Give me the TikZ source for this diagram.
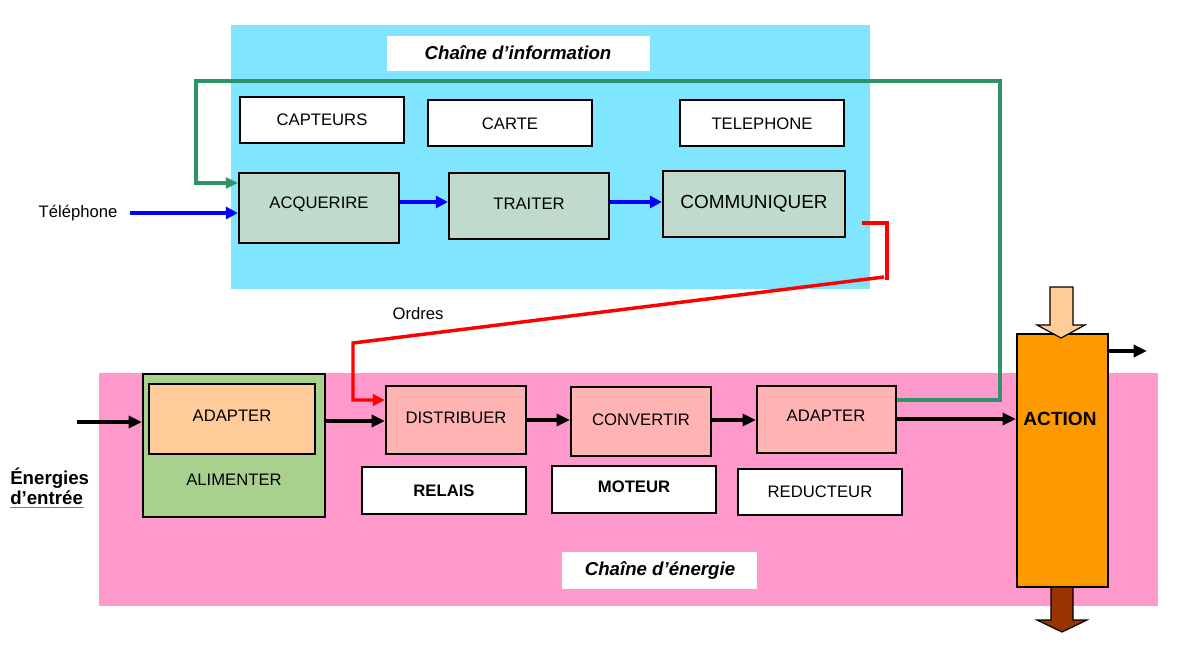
\documentclass[tikz,border=0pt]{standalone}
\usepackage{fontspec}
\setmainfont{Liberation Sans}
\usetikzlibrary{arrows.meta,fit}
\definecolor{cyanbg}{RGB}{128,229,255}
\definecolor{pinkbg}{RGB}{255,153,204}
\definecolor{greybox}{RGB}{192,218,205}
\definecolor{salmon}{RGB}{255,179,179}
\definecolor{peach}{RGB}{255,204,153}
\definecolor{alimgreen}{RGB}{169,209,142}
\definecolor{actorange}{RGB}{255,153,0}
\definecolor{brownarr}{RGB}{153,51,0}
\definecolor{linegreen}{RGB}{46,148,103}
\definecolor{ulblue}{RGB}{90,125,215}
\begin{document}
\begin{tikzpicture}[x=0.75pt,y=-0.75pt,
  box/.style={draw=black, line width=1.7pt, inner sep=0pt},
  wbox/.style={box, fill=white},
  hdr/.style={fill=white, inner sep=0pt},
  lbl/.style={inner sep=0pt, font=\fontsize{12.5}{15}\selectfont},
  blbl/.style={inner sep=0pt, font=\bfseries\fontsize{12.5}{15}\selectfont},
  hlbl/.style={inner sep=0pt, font=\bfseries\itshape\fontsize{14}{16}\selectfont},
  barr/.style={draw=blue, line width=2.6pt, -{Triangle[length=9pt,width=9pt]}},
  karr/.style={draw=black, line width=2.8pt, -{Triangle[length=10pt,width=9pt]}},
  garr/.style={draw=linegreen, line width=2.4pt, -{Triangle[length=9pt,width=8pt]}},
  rarr/.style={draw=red, line width=2.6pt, -{Triangle[length=9pt,width=8.5pt]}},
  blockarr/.style={draw=black, line width=0.9pt}
]
\useasboundingbox (0,0) rectangle (1177,651);

% backgrounds
\fill[cyanbg] (231,25) rectangle (870,289);
\fill[pinkbg] (99,373) rectangle (1158,606);

% headers
\node[hdr, fit={(387,36) (650,71)}] (hinfo) {};
\node[hlbl] (hinfot) at (518,53) {Chaîne d’information};
\node[hdr, fit={(562,552) (757,589)}] (hener) {};
\node[hlbl] (henert) at (660,570) {Chaîne d’énergie};

% information chain
\node[wbox, fit={(240,97) (404,143)}] (capt) {};
\node[lbl] (captt) at (322,120) {CAPTEURS};
\node[wbox, fit={(428,100) (592,146)}] (carte) {};
\node[lbl] (cartet) at (510,124) {CARTE};
\node[wbox, fit={(680,100) (844,146)}] (telb) {};
\node[lbl] (telbt) at (762,124) {TELEPHONE};
\node[box, fill=greybox, fit={(239,173) (399,243)}] (acq) {};
\node[lbl] (acqt) at (319,204) {ACQUERIRE};
\node[box, fill=greybox, fit={(449,173) (609,239)}] (trait) {};
\node[lbl] (traitt) at (529,204) {TRAITER};
\node[box, fill=greybox, fit={(663,171) (845,237)}] (comm) {};
\node[lbl, font=\fontsize{14.2}{16}\selectfont] (commt) at (754,204) {COMMUNIQUER};

\node[lbl] (tel) at (78,213) {Téléphone};
\coordinate (telstart) at (130,213);
\draw[barr] (telstart) -- (acq.west |- telstart);
\draw[barr] (acq.east |- 0,202) -- (trait.west |- 0,202);
\draw[barr] (trait.east |- 0,202) -- (comm.west |- 0,202);

\node[lbl] (ordres) at (418,314) {Ordres};

% energy chain
\node[box, fill=alimgreen, fit={(143,374) (325,517)}] (alim) {};
\node[lbl] (alimt) at (234,480) {ALIMENTER};
\node[box, fill=peach, fit={(149,384) (315,454)}] (adapt1) {};
\node[lbl] (adapt1t) at (232,416) {ADAPTER};
\node[box, fill=salmon, fit={(386,386) (526,454)}] (dist) {};
\node[lbl] (distt) at (456,418) {DISTRIBUER};
\node[box, fill=salmon, fit={(571,387) (711,456)}] (conv) {};
\node[lbl] (convt) at (641,420) {CONVERTIR};
\node[box, fill=salmon, fit={(757,386) (896,453)}] (adapt2) {};
\node[lbl] (adapt2t) at (826,416) {ADAPTER};

\node[wbox, fit={(362,467) (526,514)}] (relais) {};
\node[blbl] (relaist) at (444,491) {RELAIS};
\node[wbox, fit={(552,466) (716,513)}] (moteur) {};
\node[blbl] (moteurt) at (634,487) {MOTEUR};
\node[wbox, fit={(738,469) (902,515)}] (reduc) {};
\node[lbl] (reduct) at (820,492) {REDUCTEUR};

\node[box, fill=actorange, fit={(1017,334) (1108,587)}] (action) {};
\node[inner sep=0pt, font=\bfseries\fontsize{14.3}{16}\selectfont] (actiont) at (1060,419) {ACTION};

\node[anchor=base west, inner sep=0pt, font=\bfseries\fontsize{14}{16}\selectfont] (energ1) at (10,484) {Énergies};
\node[anchor=base west, inner sep=0pt, font=\bfseries\fontsize{14}{16}\selectfont] (energ2) at (10,504) {d’entrée};
\draw[ulblue, line width=0.9pt] (energ2.south west) ++(0,3) -- ++(74,0);

% black arrows
\coordinate (ein) at (77,422);
\draw[karr] (ein) -- (alim.west |- ein);
\draw[karr] (alim.east |- 0,421) -- (dist.west |- 0,421);
\draw[karr] (dist.east |- 0,420) -- (conv.west |- 0,420);
\draw[karr] (conv.east |- 0,420) -- (adapt2.west |- 0,420);
\draw[karr] (adapt2.east |- 0,419) -- (action.west |- 0,419);
\coordinate (aout) at (1147,351);
\draw[karr] (action.east |- aout) -- (aout);

% green feedback line
\draw[garr] (adapt2.east |- 0,400) -| (1000,81) -| (196,183) -- (acq.west |- 0,183);

% red orders line
\coordinate (rstart) at (862,223);
\coordinate (rc1) at (887,280);
\coordinate (rc2) at (884,277);
\coordinate (rc3) at (353,343);
\draw[draw=red, line width=2.6pt] (rstart) -| (rc1);
\draw[rarr] (rc2) -- (rc3) |- (dist.west |- 0,400);

% block arrows
\draw[blockarr, fill=peach] (1050,287) -- (1073,287) -- (1073,325) -- (1085,325) -- (1061,338) -- (1037,325) -- (1050,325) -- cycle;
\draw[blockarr, fill=brownarr] (1051,587) -- (1073,587) -- (1073,620) -- (1087,620) -- (1062,632) -- (1037,620) -- (1051,620) -- cycle;
\end{tikzpicture}
\end{document}
